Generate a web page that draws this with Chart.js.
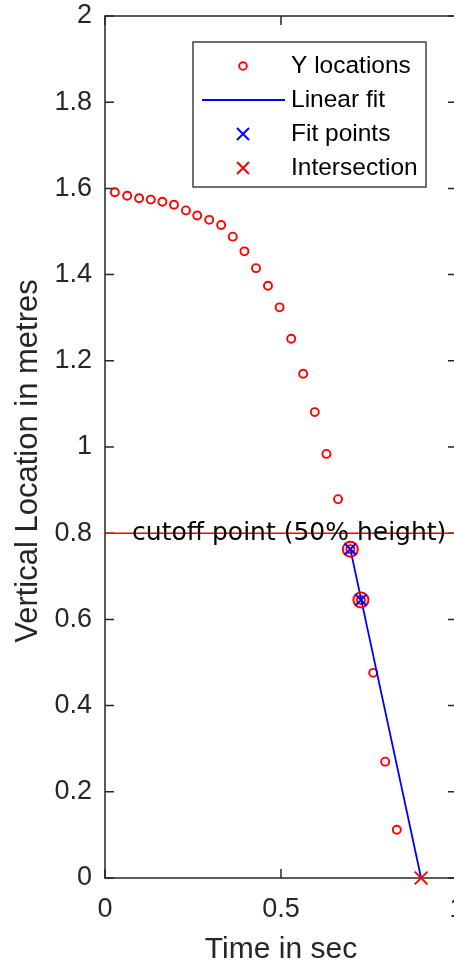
<!DOCTYPE html>
<html>
<head>
<meta charset="utf-8">
<script src="https://cdn.jsdelivr.net/npm/chart.js@4"></script>
<style>
  html, body { margin: 0; padding: 0; background: #ffffff; overflow: hidden; }
  canvas { display: block; }
</style>
</head>
<body>
<canvas id="drop" width="480" height="966"></canvas>
<script>
// Tracked vertical position of the falling object, one sample per video frame
const timeSec = [0.028, 0.063, 0.097, 0.130, 0.163, 0.196, 0.230, 0.262, 0.296, 0.330,
                 0.363, 0.396, 0.429, 0.463, 0.496, 0.529, 0.563, 0.596, 0.629, 0.662,
                 0.697, 0.727, 0.762, 0.796, 0.829];
const yLocation = [1.591, 1.583, 1.577, 1.574, 1.569, 1.562, 1.549, 1.537, 1.527, 1.515,
                   1.488, 1.454, 1.415, 1.374, 1.324, 1.251, 1.170, 1.081, 0.984, 0.879,
                   0.763, 0.645, 0.476, 0.270, 0.112];

// The two samples just below the cutoff, used for the straight-line fit
const fitTime = [0.697, 0.727];
const fitY = [0.763, 0.645];

// Where the fitted line reaches the ground
const interceptTime = [0.898];
const interceptY = [0];

// Half of the starting height
const cutoffHeight = 0.8;
const cutoffLabel = 'cutoff point (50% height)';

const xTickLabels = ['0', '0.5', '1'];
const yTickLabels = ['0', '0.2', '0.4', '0.6', '0.8', '1', '1.2', '1.4', '1.6', '1.8', '2'];

const AXIS_COLOR = '#262626';
const SANS = '"Liberation Sans", Arial, Helvetica, sans-serif';

function labelFor(list, v) {
  const hit = list.find(l => Math.abs(Number(l) - v) < 1e-9);
  return hit === undefined ? '' : hit;
}

// Boxed axes with inward tick marks on all four sides
const boxAxes = {
  id: 'boxAxes',
  beforeDatasetsDraw(chart) {
    const { ctx, chartArea: ca, scales: { x, y } } = chart;
    const tick = 9;
    ctx.save();
    ctx.strokeStyle = AXIS_COLOR;
    ctx.lineWidth = 1.5;
    ctx.strokeRect(ca.left, ca.top, ca.right - ca.left, ca.bottom - ca.top);
    ctx.beginPath();
    y.ticks.forEach(t => {
      const py = y.getPixelForValue(t.value);
      ctx.moveTo(ca.left, py); ctx.lineTo(ca.left + tick, py);
      ctx.moveTo(ca.right, py); ctx.lineTo(ca.right - tick, py);
    });
    x.ticks.forEach(t => {
      const px = x.getPixelForValue(t.value);
      ctx.moveTo(px, ca.bottom); ctx.lineTo(px, ca.bottom - tick);
      ctx.moveTo(px, ca.top); ctx.lineTo(px, ca.top + tick);
    });
    ctx.stroke();
    ctx.restore();
  }
};

// Text annotation on the cutoff line, and the rotated y-axis title
const annotations = {
  id: 'annotations',
  afterDatasetsDraw(chart) {
    const { ctx, chartArea: ca, scales: { x, y } } = chart;
    ctx.save();
    ctx.font = '25px "DejaVu Sans", sans-serif';
    ctx.fillStyle = '#000000';
    ctx.textAlign = 'left';
    ctx.textBaseline = 'middle';
    ctx.fillText(cutoffLabel, x.getPixelForValue(0.077), y.getPixelForValue(cutoffHeight));

    ctx.font = '31px ' + SANS;
    ctx.fillStyle = AXIS_COLOR;
    ctx.textAlign = 'center';
    ctx.textBaseline = 'alphabetic';
    ctx.translate(37, (ca.top + ca.bottom) / 2 + 14);
    ctx.rotate(-Math.PI / 2);
    ctx.fillText('Vertical Location in metres', 0, 0);
    ctx.restore();
  }
};

// Legend box in the upper right of the plot area
const boxLegend = {
  id: 'boxLegend',
  afterDraw(chart) {
    const { ctx, chartArea: ca } = chart;
    const items = chart.data.datasets.filter(d => d.inLegend)
      .sort((a, b) => a.legendRank - b.legendRank);
    const left = ca.left + 88, top = ca.top + 26, w = 233, h = 145;
    ctx.save();
    ctx.fillStyle = '#ffffff';
    ctx.fillRect(left, top, w, h);
    ctx.strokeStyle = AXIS_COLOR;
    ctx.lineWidth = 1.3;
    ctx.strokeRect(left, top, w, h);
    items.forEach((d, i) => {
      const cy = top + 24 + i * 34;
      const cx = left + 50;
      ctx.strokeStyle = d.borderColor;
      ctx.lineWidth = d.borderWidth;
      ctx.beginPath();
      if (d.pointRadius === 0) {
        ctx.moveTo(left + 9, cy); ctx.lineTo(left + 92, cy);
      } else if (d.pointStyle === 'circle') {
        ctx.arc(cx, cy, 3.8, 0, Math.PI * 2);
      } else {
        const a = 6;
        ctx.moveTo(cx - a, cy - a); ctx.lineTo(cx + a, cy + a);
        ctx.moveTo(cx - a, cy + a); ctx.lineTo(cx + a, cy - a);
      }
      ctx.stroke();
      ctx.font = '24.5px ' + SANS;
      ctx.fillStyle = '#000000';
      ctx.textAlign = 'left';
      ctx.textBaseline = 'middle';
      ctx.fillText(d.label, left + 98, cy);
    });
    ctx.restore();
  }
};

const pts = (xs, ys) => xs.map((t, i) => ({ x: t, y: ys[i] }));

new Chart(document.getElementById('drop'), {
  type: 'scatter',
  data: {
    datasets: [
      {
        label: 'Fit points', inLegend: true, legendRank: 2,
        data: pts(fitTime, fitY),
        pointStyle: 'crossRot', pointRadius: 8, borderColor: '#0000ff', borderWidth: 2,
        backgroundColor: 'rgba(0,0,0,0)', clip: false
      },
      {
        label: 'Intersection', inLegend: true, legendRank: 3,
        data: pts(interceptTime, interceptY),
        pointStyle: 'crossRot', pointRadius: 9, borderColor: '#ff0000', borderWidth: 2,
        backgroundColor: 'rgba(0,0,0,0)', clip: false
      },
      {
        label: 'Fit samples',
        data: pts(fitTime, fitY),
        pointStyle: 'circle', pointRadius: 7.5, borderColor: '#ff0000', borderWidth: 2,
        backgroundColor: 'rgba(0,0,0,0)', clip: false
      },
      {
        label: 'Linear fit', inLegend: true, legendRank: 1,
        type: 'line',
        data: [{ x: fitTime[0], y: fitY[0] }, { x: interceptTime[0], y: interceptY[0] }],
        borderColor: '#0000ff', borderWidth: 1.8, pointRadius: 0, fill: false, tension: 0,
        clip: false
      },
      {
        label: 'Y locations', inLegend: true, legendRank: 0,
        data: pts(timeSec, yLocation),
        pointStyle: 'circle', pointRadius: 4, borderColor: '#ff0000', borderWidth: 1.9,
        backgroundColor: 'rgba(0,0,0,0)', clip: false
      },
      {
        label: 'Cutoff',
        type: 'line',
        data: [{ x: 0, y: cutoffHeight }, { x: 1, y: cutoffHeight }],
        borderColor: '#ff0000', borderWidth: 1.5, pointRadius: 0, fill: false
      }
    ]
  },
  options: {
    responsive: false,
    animation: false,
    devicePixelRatio: 1,
    events: [],
    layout: { padding: { top: 16, right: 23, left: 0, bottom: 0 } },
    plugins: { legend: { display: false }, tooltip: { enabled: false } },
    scales: {
      x: {
        type: 'linear', min: 0, max: 1,
        grid: { display: false, drawTicks: false },
        border: { display: false },
        ticks: {
          stepSize: 0.5, autoSkip: false, maxRotation: 0, padding: 15,
          color: AXIS_COLOR, font: { family: SANS, size: 27 },
          callback: v => labelFor(xTickLabels, v)
        },
        title: {
          display: true, text: 'Time in sec', color: AXIS_COLOR,
          font: { family: SANS, size: 30, lineHeight: 1.1 }, padding: 0
        },
        afterFit: s => { s.height = 88; s.paddingLeft = 0; s.paddingRight = 0; }
      },
      y: {
        type: 'linear', min: 0, max: 2,
        grid: { display: false, drawTicks: false },
        border: { display: false },
        ticks: {
          stepSize: 0.2, autoSkip: false, padding: 13,
          color: AXIS_COLOR, font: { family: SANS, size: 27 },
          callback: v => labelFor(yTickLabels, v)
        },
        afterFit: s => { s.width = 105; s.paddingTop = 0; s.paddingBottom = 0; }
      }
    }
  },
  plugins: [boxAxes, annotations, boxLegend]
});
</script>
</body>
</html>
